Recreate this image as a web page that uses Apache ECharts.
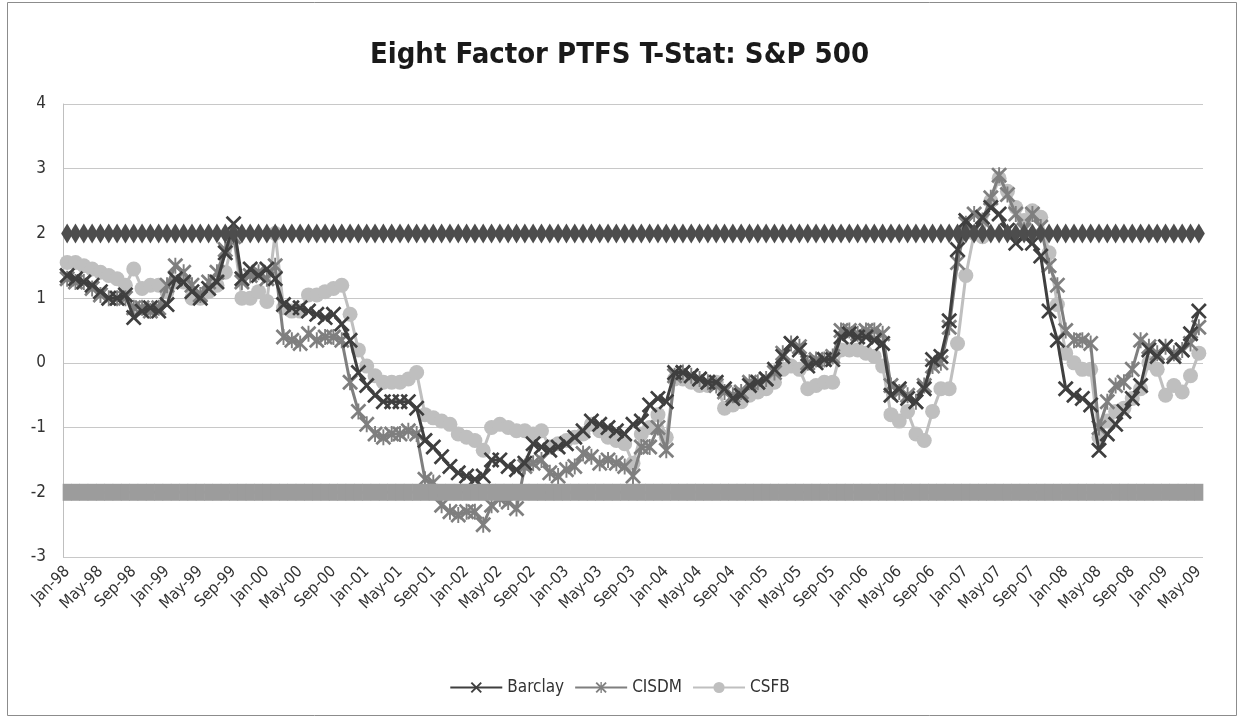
<!DOCTYPE html>
<html>
<head>
<meta charset="utf-8">
<script src="https://cdn.jsdelivr.net/npm/echarts@6/dist/echarts.min.js"></script>
<style>
  html, body { margin: 0; padding: 0; background: #fff; }
  #chart { width: 1239px; height: 719px; }
</style>
</head>
<body>
<div id="chart"></div>
<script>
// months Jan-98 .. May-09
const monthNames = ['Jan', 'Feb', 'Mar', 'Apr', 'May', 'Jun', 'Jul', 'Aug', 'Sep', 'Oct', 'Nov', 'Dec']
const months = []
for (let y = 1998; y <= 2009; y++) {
  for (let m = 0; m < 12; m++) {
    if (y === 2009 && m > 4) break
    months.push(monthNames[m] + '-' + String(y).slice(2))
  }
}

const barclay = [
  1.35, 1.3, 1.25, 1.2, 1.1, 1.0, 1.0, 1.05, 0.7, 0.8,
  0.85, 0.8, 0.9, 1.3, 1.25, 1.1, 1.0, 1.15, 1.25, 1.7,
  2.15, 1.3, 1.45, 1.35, 1.45, 1.3, 0.9, 0.85, 0.85, 0.8,
  0.75, 0.7, 0.75, 0.6, 0.35, -0.15, -0.35, -0.5, -0.6, -0.6,
  -0.6, -0.6, -0.7, -1.2, -1.3, -1.45, -1.6, -1.7, -1.75, -1.8,
  -1.75, -1.5, -1.5, -1.6, -1.65, -1.55, -1.25, -1.3, -1.35, -1.3,
  -1.25, -1.15, -1.05, -0.9, -0.95, -1.0, -1.05, -1.1, -0.95, -0.9,
  -0.65, -0.55, -0.6, -0.15, -0.15, -0.2, -0.25, -0.3, -0.3, -0.4,
  -0.55, -0.5, -0.35, -0.3, -0.25, -0.1, 0.1, 0.3, 0.2, -0.05,
  0.0, 0.05, 0.05, 0.4, 0.45, 0.4, 0.4, 0.35, 0.3, -0.5,
  -0.4, -0.55, -0.6, -0.4, 0.05, 0.1, 0.65, 1.75, 2.2, 2.05,
  2.25, 2.4, 2.3, 2.05, 1.85, 1.95, 1.85, 1.65, 0.8, 0.35,
  -0.4, -0.5, -0.55, -0.65, -1.35, -1.1, -0.95, -0.75, -0.55, -0.35,
  0.2, 0.1, 0.25, 0.1, 0.2, 0.45, 0.8
]

const cisdm = [
  1.3, 1.25, 1.25, 1.15, 1.05, 1.0, 1.0, 1.0, 0.85, 0.85,
  0.8, 0.85, 1.2, 1.5, 1.4, 1.2, 1.05, 1.25, 1.4, 1.75,
  1.95, 1.25, 1.35, 1.4, 1.3, 1.5, 0.4, 0.35, 0.3, 0.45,
  0.35, 0.4, 0.4, 0.35, -0.3, -0.75, -0.95, -1.1, -1.15, -1.1,
  -1.1, -1.05, -1.1, -1.8, -1.85, -2.2, -2.3, -2.35, -2.3, -2.3,
  -2.5, -2.2, -2.1, -2.15, -2.25, -1.6, -1.55, -1.5, -1.7, -1.75,
  -1.65, -1.6, -1.4, -1.45, -1.55, -1.5, -1.55, -1.6, -1.75, -1.3,
  -1.3, -1.0, -1.35, -0.2, -0.15, -0.2, -0.25, -0.3, -0.35, -0.45,
  -0.5, -0.45, -0.3, -0.3, -0.25, -0.15, 0.15, 0.3, 0.25, 0.0,
  0.05, 0.05, 0.1, 0.5, 0.5, 0.45, 0.5, 0.5, 0.45, -0.35,
  -0.45, -0.5, -0.6, -0.35, -0.05, 0.0, 0.55, 1.55, 2.15, 2.3,
  2.2, 2.55, 2.9, 2.6, 2.3, 2.05, 2.3, 2.1, 1.5, 1.2,
  0.5, 0.35, 0.35, 0.3, -1.0, -0.6, -0.35, -0.3, -0.1, 0.35,
  0.25, 0.15, 0.25, 0.15, 0.2, 0.3, 0.55
]

const csfb = [
  1.55, 1.55, 1.5, 1.45, 1.4, 1.35, 1.3, 1.2, 1.45, 1.15,
  1.2, 1.2, 1.1, 1.25, 1.25, 1.0, 1.0, 1.1, 1.2, 1.4,
  1.95, 1.0, 1.0, 1.1, 0.95, 2.0, 0.85, 0.8, 0.8, 1.05,
  1.05, 1.1, 1.15, 1.2, 0.75, 0.2, -0.05, -0.2, -0.3, -0.3,
  -0.3, -0.25, -0.15, -0.8, -0.85, -0.9, -0.95, -1.1, -1.15, -1.2,
  -1.35, -1.0, -0.95, -1.0, -1.05, -1.05, -1.1, -1.05, -1.3, -1.25,
  -1.2, -1.15, -1.1, -0.95, -1.05, -1.15, -1.2, -1.25, -1.55, -1.1,
  -1.0, -0.8, -1.15, -0.25, -0.25, -0.3, -0.35, -0.35, -0.3, -0.7,
  -0.65, -0.6, -0.5, -0.45, -0.4, -0.3, -0.1, -0.05, -0.1, -0.4,
  -0.35, -0.3, -0.3, 0.2, 0.2, 0.2, 0.15, 0.1, -0.05, -0.8,
  -0.9, -0.75, -1.1, -1.2, -0.75, -0.4, -0.4, 0.3, 1.35, 2.0,
  1.95, 2.5, 2.85, 2.65, 2.4, 2.2, 2.35, 2.25, 1.7, 0.9,
  0.15, 0.0, -0.1, -0.1, -1.15, -0.9, -0.75, -0.7, -0.55, -0.4,
  0.0, -0.1, -0.5, -0.35, -0.45, -0.2, 0.15
]

// significance levels
const upperLevel = 2
const lowerLevel = -2

const yTicks = [-3, -2, -1, 0, 1, 2, 3, 4]

const crossPath = 'path://M0,1.2L1.2,0L5,3.8L8.8,0L10,1.2L6.2,5L10,8.8L8.8,10L5,6.2L1.2,10L0,8.8L3.8,5Z'
const starPath = crossPath + 'M4.4,0L5.6,0L5.6,10L4.4,10Z'

const font = '"Liberation Sans Narrow", "DejaVu Sans Condensed", "Noto Sans", sans-serif'

const chart = echarts.init(document.getElementById('chart'))

const option = {
  animation: false,
  backgroundColor: '#fff',
  textStyle: { fontFamily: font },
  graphic: [{
    type: 'rect',
    shape: { x: 7.5, y: 2.5, width: 1229, height: 713 },
    style: { fill: 'none', stroke: '#8c8c8c', lineWidth: 1 },
    silent: true
  }],
  title: {
    text: 'Eight Factor PTFS T-Stat: S&P 500',
    left: 'center',
    top: 36,
    textStyle: { fontFamily: font, fontSize: 29, fontWeight: 'bold', color: '#1a1a1a' }
  },
  legend: {
    bottom: 18,
    left: 'center',
    data: ['Barclay', 'CISDM', 'CSFB'],
    itemWidth: 52,
    itemHeight: 14,
    itemGap: 10,
    textStyle: { fontFamily: font, fontSize: 17, color: '#333' }
  },
  grid: { left: 63, right: 36, top: 104, bottom: 162 },
  xAxis: {
    type: 'category',
    data: months,
    boundaryGap: true,
    axisLine: { show: false },
    axisTick: { show: false },
    axisLabel: {
      interval: 3,
      rotate: 45,
      margin: 12,
      fontSize: 16,
      color: '#333',
      fontFamily: font
    }
  },
  yAxis: {
    type: 'value',
    min: yTicks[0],
    max: yTicks[yTicks.length - 1],
    interval: 1,
    axisLine: { show: true, lineStyle: { color: '#bfbfbf' } },
    axisTick: { show: false },
    axisLabel: { fontSize: 17, color: '#333', margin: 17, fontFamily: font },
    splitLine: { lineStyle: { color: '#c8c8c8', width: 1 } }
  },
  series: [
    {
      name: 'Barclay',
      type: 'line',
      data: barclay,
      symbol: crossPath,
      symbolSize: 16,
      showAllSymbol: true,
      lineStyle: { color: '#3f3f3f', width: 3 },
      itemStyle: { color: '#3f3f3f' },
      z: 4
    },
    {
      name: 'CISDM',
      type: 'line',
      data: cisdm,
      symbol: starPath,
      symbolSize: 16,
      showAllSymbol: true,
      lineStyle: { color: '#7f7f7f', width: 3 },
      itemStyle: { color: '#7f7f7f' },
      z: 3
    },
    {
      name: 'CSFB',
      type: 'line',
      data: csfb,
      symbol: 'circle',
      symbolSize: 15,
      showAllSymbol: true,
      lineStyle: { color: '#bfbfbf', width: 3 },
      itemStyle: { color: '#bfbfbf' },
      z: 2
    },
    {
      name: 'Upper',
      type: 'line',
      data: months.map(() => upperLevel),
      symbol: 'diamond',
      symbolSize: [12, 20],
      showAllSymbol: true,
      lineStyle: { color: '#4d4d4d', width: 3 },
      itemStyle: { color: '#4d4d4d' },
      z: 6
    },
    {
      name: 'Lower',
      type: 'line',
      data: months.map(() => lowerLevel),
      symbol: 'rect',
      symbolSize: [9, 17],
      showAllSymbol: true,
      lineStyle: { color: '#9c9c9c', width: 3 },
      itemStyle: { color: '#9c9c9c' },
      z: 6
    }
  ]
}

chart.setOption(option)
</script>
</body>
</html>
